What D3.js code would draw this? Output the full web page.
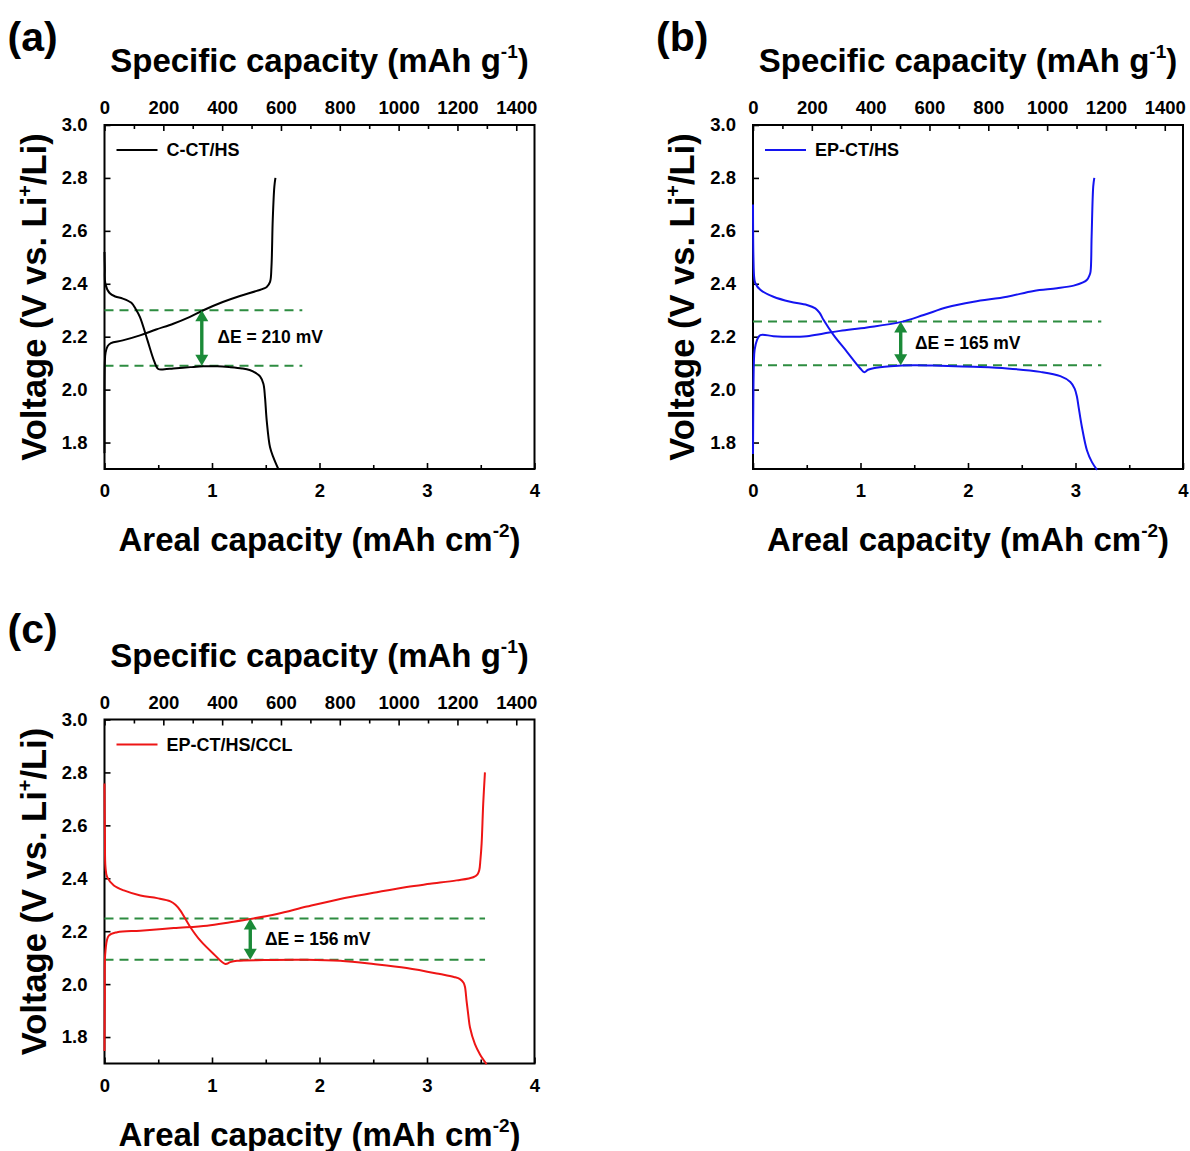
<!DOCTYPE html>
<html><head><meta charset="utf-8">
<script src="https://cdn.jsdelivr.net/npm/d3@7"></script>
<style>
body{margin:0;background:#fff;}
svg text{font-family:"Liberation Sans",Arial,sans-serif;font-weight:bold;fill:#000;}
</style></head><body>
<svg id="chart" width="1190" height="1151"></svg>
<script>
// ---------- data ----------
const panelLetters = ["(a)", "(b)", "(c)"];
const sampleNames = ["C-CT/HS", "EP-CT/HS", "EP-CT/HS/CCL"];
const arealDomain = [0, 4];
const specificDomain = [0, 1462];
const voltageDomain = [1.7, 3.0];
const arealTicks = [0, 0.5, 1, 1.5, 2, 2.5, 3, 3.5, 4];
const arealLabels = [0, 1, 2, 3, 4];
const specificTicks = [0,100,200,300,400,500,600,700,800,900,1000,1100,1200,1300,1400];
const specificLabels = [0, 200, 400, 600, 800, 1000, 1200, 1400];
const voltageLabels = [1.8, 2.0, 2.2, 2.4, 2.6, 2.8, 3.0];

// [areal capacity (mAh cm-2), voltage (V)]
const dischargeA = [[0,2.52],[0.003,2.46],[0.008,2.40],[0.047,2.365],[0.1,2.352],[0.17,2.344],[0.25,2.328],[0.29,2.305],[0.33,2.274],[0.40,2.186],[0.46,2.11],[0.50,2.078],[0.56,2.077],[0.64,2.080],[0.80,2.085],[0.92,2.088],[1.05,2.088],[1.16,2.085],[1.28,2.080],[1.35,2.074],[1.41,2.062],[1.447,2.050],[1.478,2.022],[1.493,1.971],[1.509,1.883],[1.540,1.782],[1.571,1.744],[1.617,1.70]];
const chargeA = [[0,1.76],[0.003,2.10],[0.01,2.14],[0.03,2.165],[0.06,2.176],[0.17,2.186],[0.33,2.205],[0.48,2.227],[0.64,2.249],[0.79,2.274],[0.92,2.30],[1.10,2.331],[1.26,2.354],[1.416,2.373],[1.509,2.388],[1.540,2.407],[1.553,2.464],[1.565,2.641],[1.58,2.767],[1.59,2.80]];
const dischargeB = [[0,2.70],[0.004,2.50],[0.012,2.42],[0.022,2.402],[0.068,2.377],[0.19,2.351],[0.347,2.332],[0.502,2.320],[0.58,2.307],[0.62,2.29],[0.657,2.263],[0.75,2.206],[0.874,2.143],[0.998,2.080],[1.036,2.066],[1.07,2.075],[1.12,2.081],[1.277,2.088],[1.495,2.092],[1.743,2.090],[2.053,2.086],[2.363,2.080],[2.673,2.067],[2.859,2.051],[2.952,2.029],[2.992,2.004],[3.014,1.972],[3.029,1.934],[3.06,1.858],[3.107,1.770],[3.153,1.726],[3.2,1.697]];
const chargeB = [[0,1.757],[0.003,1.95],[0.008,2.10],[0.015,2.15],[0.037,2.187],[0.068,2.206],[0.19,2.202],[0.347,2.200],[0.502,2.202],[0.657,2.212],[0.81,2.222],[1.06,2.235],[1.37,2.255],[1.588,2.282],[1.805,2.311],[2.053,2.332],[2.363,2.351],[2.611,2.373],[2.828,2.383],[2.983,2.393],[3.07,2.405],[3.107,2.415],[3.13,2.432],[3.14,2.446],[3.15,2.579],[3.165,2.768],[3.175,2.80]];
const dischargeC = [[0,2.758],[0.004,2.55],[0.009,2.442],[0.025,2.404],[0.087,2.373],[0.18,2.354],[0.334,2.335],[0.489,2.325],[0.613,2.313],[0.66,2.30],[0.706,2.278],[0.799,2.215],[0.892,2.164],[1.015,2.114],[1.124,2.076],[1.17,2.083],[1.232,2.088],[1.48,2.091],[1.882,2.092],[2.192,2.088],[2.502,2.076],[2.811,2.061],[3.12,2.038],[3.25,2.027],[3.307,2.019],[3.34,2.005],[3.353,1.99],[3.368,1.937],[3.385,1.88],[3.40,1.836],[3.446,1.773],[3.492,1.735],[3.554,1.697]];
const chargeC = [[0,1.747],[0.003,1.95],[0.009,2.126],[0.04,2.183],[0.118,2.196],[0.334,2.202],[0.644,2.212],[0.954,2.221],[1.17,2.234],[1.356,2.246],[1.604,2.265],[1.882,2.293],[2.192,2.322],[2.502,2.345],[2.811,2.367],[3.028,2.379],[3.276,2.392],[3.43,2.404],[3.47,2.415],[3.486,2.430],[3.497,2.47],[3.508,2.531],[3.523,2.682],[3.539,2.80]];

const upperV = [2.300, 2.257, 2.248];
const lowerV = [2.090, 2.092, 2.092];
const deltaLabels = ["\u0394E = 210 mV", "\u0394E = 165 mV", "\u0394E = 156 mV"];
const arrowAreal = [0.905, 1.374, 1.356];
const dashEndAreal = [1.84, 3.24, 3.54];
const deltaLabelPos = [[1.05, 2.176], [1.507, 2.155], [1.493, 2.147]];

// ---------- styles / layout ----------
const lineColors = ["#000000", "#1414f0", "#ee1515"];
const dashColor = "#2d8c40";
const arrowColor = "#1b8a38";
const layout = [{left:104.5, top:125}, {left:753, top:125}, {left:104.5, top:719.5}];
const W = 430, H = 344;
const font = '"Liberation Sans", Arial, sans-serif';

const svg = d3.select("#chart");
const series = [[dischargeA, chargeA], [dischargeB, chargeB], [dischargeC, chargeC]];

layout.forEach((L, i) => {
  const g = svg.append("g");
  const x = d3.scaleLinear().domain(arealDomain).range([L.left, L.left + W]);
  const xs = d3.scaleLinear().domain(specificDomain).range([L.left, L.left + W]);
  const y = d3.scaleLinear().domain(voltageDomain).range([L.top + H, L.top]);

  const bottom = L.top + H;
  g.append("g").attr("transform", `translate(0,${bottom})`)
    .call(d3.axisBottom(x).tickValues(arealTicks.filter(v => !arealLabels.includes(v))).tickSize(-4).tickFormat(""));
  g.append("g").attr("transform", `translate(0,${bottom})`)
    .call(d3.axisBottom(x).tickValues(arealLabels).tickSize(-6).tickPadding(15).tickFormat(d3.format("d")));
  g.append("g").attr("transform", `translate(0,${L.top})`)
    .call(d3.axisTop(xs).tickValues(specificTicks.filter(v => !specificLabels.includes(v))).tickSize(-4).tickFormat(""));
  g.append("g").attr("transform", `translate(0,${L.top})`)
    .call(d3.axisTop(xs).tickValues(specificLabels).tickSize(-6).tickPadding(11).tickFormat(d3.format("d")));
  g.append("g").attr("transform", `translate(${L.left},0)`)
    .call(d3.axisLeft(y).tickValues(voltageLabels).tickSize(-6).tickPadding(17).tickFormat(d3.format(".1f")));

  g.selectAll(".domain").remove();
  g.selectAll(".tick line").attr("stroke", "#000").attr("stroke-width", 1.6);
  g.selectAll(".tick text").attr("font-size", 18.5).attr("font-family", font).attr("font-weight", "bold").attr("fill", "#000");

  g.append("rect").attr("x", L.left).attr("y", L.top).attr("width", W).attr("height", H)
    .attr("fill", "none").attr("stroke", "#000").attr("stroke-width", 2);

  [upperV[i], lowerV[i]].forEach(v => {
    g.append("line").attr("x1", x(0)).attr("x2", x(dashEndAreal[i]))
      .attr("y1", y(v)).attr("y2", y(v))
      .attr("stroke", dashColor).attr("stroke-width", 2).attr("stroke-dasharray", "9,6");
  });

  const line = d3.line().x(d => x(d[0])).y(d => y(d[1])).curve(d3.curveCatmullRom.alpha(0.5));
  series[i].forEach(s => {
    g.append("path").attr("d", line(s)).attr("fill", "none")
      .attr("stroke", lineColors[i]).attr("stroke-width", 2).attr("stroke-linejoin", "round");
  });

  const ax = x(arrowAreal[i]), yt = y(upperV[i]), yb = y(lowerV[i]);
  const hl = 11, hw = 6.5;
  g.append("line").attr("x1", ax).attr("x2", ax).attr("y1", yt + hl - 1).attr("y2", yb - hl + 1)
    .attr("stroke", arrowColor).attr("stroke-width", 3.4);
  g.append("path").attr("d", `M${ax},${yt}L${ax - hw},${yt + hl}L${ax + hw},${yt + hl}Z`).attr("fill", arrowColor);
  g.append("path").attr("d", `M${ax},${yb}L${ax - hw},${yb - hl}L${ax + hw},${yb - hl}Z`).attr("fill", arrowColor);

  g.append("text").attr("x", x(deltaLabelPos[i][0])).attr("y", y(deltaLabelPos[i][1]))
    .attr("font-size", 17.5).text(deltaLabels[i]);

  g.append("line").attr("x1", L.left + 12).attr("x2", L.left + 53)
    .attr("y1", L.top + 25).attr("y2", L.top + 25)
    .attr("stroke", lineColors[i]).attr("stroke-width", 2);
  g.append("text").attr("x", L.left + 62).attr("y", L.top + 31)
    .attr("font-size", 18).text(sampleNames[i]);

  g.append("text").attr("x", L.left - 97).attr("y", L.top - 74 - (i === 2 ? 3 : 0))
    .attr("font-size", 41).text(panelLetters[i]);

  const cx = L.left + W / 2;
  const tt = g.append("text").attr("x", cx).attr("y", L.top - 53).attr("text-anchor", "middle").attr("font-size", 33);
  tt.append("tspan").text("Specific capacity (mAh g");
  tt.append("tspan").attr("font-size", 19).attr("dy", -14).text("-1");
  tt.append("tspan").attr("dy", 14).text(")");

  const bt = g.append("text").attr("x", cx).attr("y", bottom + 82).attr("text-anchor", "middle").attr("font-size", 33);
  bt.append("tspan").text("Areal capacity (mAh cm");
  bt.append("tspan").attr("font-size", 19).attr("dy", -14).text("-2");
  bt.append("tspan").attr("dy", 14).text(")");

  const cy = L.top + H / 2;
  const yt2 = g.append("text").attr("transform", `translate(${L.left - 59},${cy}) rotate(-90)`)
    .attr("text-anchor", "middle").attr("font-size", 34.5);
  yt2.append("tspan").text("Voltage (V vs. Li");
  yt2.append("tspan").attr("font-size", 20).attr("dy", -14).text("+");
  yt2.append("tspan").attr("dy", 14).text("/Li)");
});
</script>
</body></html>
